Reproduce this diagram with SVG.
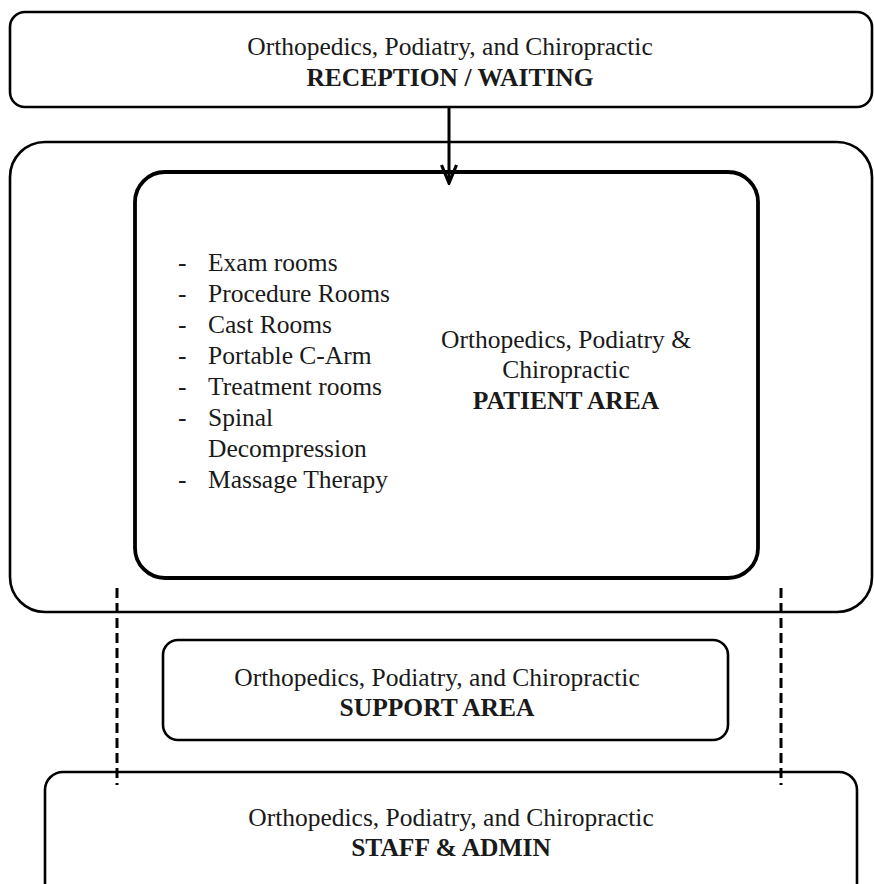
<svg xmlns="http://www.w3.org/2000/svg" width="874" height="884" viewBox="0 0 874 884">
<style>
.box{fill:none;stroke:#000;stroke-width:2.6}
.inner{fill:none;stroke:#000;stroke-width:3.8}
.t{font-family:"Liberation Serif","Times New Roman",serif;font-size:25.5px;fill:#1a1a1a}
.c{text-anchor:middle}
.b{font-weight:bold}
.conn{stroke:#000;stroke-width:3;fill:none}
.dash{stroke:#000;stroke-width:3;fill:none;stroke-dasharray:10 5}
</style>
<defs>
<marker id="ah" viewBox="0 0 22 18" refX="20" refY="9" markerWidth="22" markerHeight="18" orient="auto" markerUnits="userSpaceOnUse">
<path d="M2,1.5 L20,9 L2,16.5" fill="none" stroke="#000" stroke-width="3.2"/>
</marker>
</defs>
<rect width="874" height="884" fill="#fff"/>
<g id="reception">
<rect class="box" x="10" y="12" width="862" height="95" rx="15"/>
<text class="t c" x="450" y="55">Orthopedics, Podiatry, and Chiropractic</text>
<text class="t c b" x="450" y="86">RECEPTION / WAITING</text>
</g>
<g id="outer">
<rect class="box" x="10" y="142" width="862" height="470" rx="35"/>
</g>
<g id="patient">
<rect class="inner" x="135" y="172" width="623" height="406" rx="30"/>
<text class="t" x="178" y="271">-</text><text class="t" x="208" y="271">Exam rooms</text>
<text class="t" x="178" y="302">-</text><text class="t" x="208" y="302">Procedure Rooms</text>
<text class="t" x="178" y="333">-</text><text class="t" x="208" y="333">Cast Rooms</text>
<text class="t" x="178" y="364">-</text><text class="t" x="208" y="364">Portable C-Arm</text>
<text class="t" x="178" y="395">-</text><text class="t" x="208" y="395">Treatment rooms</text>
<text class="t" x="178" y="426">-</text><text class="t" x="208" y="426">Spinal</text>
<text class="t" x="208" y="457">Decompression</text>
<text class="t" x="178" y="488">-</text><text class="t" x="208" y="488">Massage Therapy</text>
<text class="t c" x="566" y="348">Orthopedics, Podiatry &amp;</text>
<text class="t c" x="566" y="378">Chiropractic</text>
<text class="t c b" x="566" y="409">PATIENT AREA</text>
</g>
<g id="support">
<rect class="box" x="163" y="640" width="565" height="100" rx="15"/>
<text class="t c" x="437" y="686">Orthopedics, Podiatry, and Chiropractic</text>
<text class="t c b" x="437" y="716">SUPPORT AREA</text>
</g>
<g id="staff">
<rect class="box" x="45" y="772" width="812" height="130" rx="18"/>
<text class="t c" x="451" y="826">Orthopedics, Podiatry, and Chiropractic</text>
<text class="t c b" x="451" y="856">STAFF &amp; ADMIN</text>
</g>
<g id="connectors">
<line class="conn" x1="449" y1="107" x2="449" y2="183" marker-end="url(#ah)"/>
<line class="dash" x1="117" y1="588" x2="117" y2="785"/>
<line class="dash" x1="781" y1="588" x2="781" y2="785"/>
</g>
</svg>
